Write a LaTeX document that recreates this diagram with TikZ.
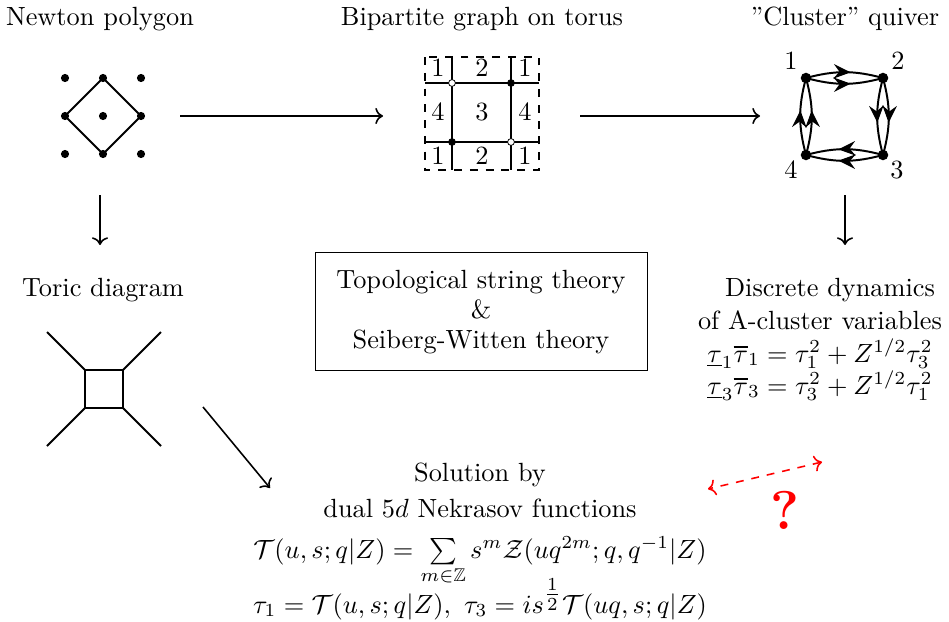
\documentclass[tikz,border=0pt]{standalone}
\usepackage{amsmath,amssymb}
\usetikzlibrary{arrows.meta,decorations.markings}
\begin{document}
\begin{tikzpicture}[x=0.38pt,y=-0.38pt,
  lbl/.style={inner sep=0pt,anchor=base},
  flow/.style={->,line width=0.6pt},
  ndot/.style={circle,fill=black,inner sep=0pt,minimum size=3.1pt},
  bdot/.style={circle,fill=black,draw=black,line width=0.3pt,inner sep=0pt,minimum size=2.6pt},
  wdot/.style={circle,fill=white,draw=black,line width=0.3pt,inner sep=0pt,minimum size=2.6pt},
  qdot/.style={circle,fill=black,inner sep=0pt,minimum size=4pt},
  qedge/.style={line width=0.75pt,postaction={decorate},
    decoration={markings,mark=at position 0.58 with {\arrow{Stealth[length=6.5pt,width=5.5pt,inset=2.2pt]}}}},
  thick2/.style={line width=0.75pt}]
\useasboundingbox (0,0) rectangle (949,622);

% titles
\node[lbl] (t1) at (100,25) {Newton polygon};
\node[lbl] (t2) at (482,25) {Bipartite graph on torus};
\node[lbl] (t3) at (845,25) {"Cluster" quiver};

% Newton polygon
\foreach \i/\x in {0/65,1/103,2/141}{
  \foreach \j/\y in {0/78,1/116,2/154}{
    \node[ndot] (n\i\j) at (\x,\y) {};
  }}
\draw[thick2] (n10.center) -- (n21.center) -- (n12.center) -- (n01.center) -- cycle;

% arrows top row
\coordinate (a1s) at (180,116);
\coordinate (a1e) at (383,116);
\draw[flow] (a1s) -- (a1e);
\coordinate (a2s) at (580,116);
\coordinate (a2e) at (760,116);
\draw[flow] (a2s) -- (a2e);

% bipartite graph
\draw[dashed,line width=0.4pt] (425,57) rectangle (539,170);
\coordinate (hl1) at (425,83); \coordinate (hr1) at (539,83);
\coordinate (hl2) at (425,142); \coordinate (hr2) at (539,142);
\coordinate (vt1) at (452,57); \coordinate (vb1) at (452,170);
\coordinate (vt2) at (511,57); \coordinate (vb2) at (511,170);
\draw[line width=0.45pt] (hl1) -- (hr1) (hl2) -- (hr2) (vt1) -- (vb1) (vt2) -- (vb2);
\node[wdot] (w1) at (452,83) {};
\node[bdot] (b1) at (511,83) {};
\node[bdot] (b2) at (452,142) {};
\node[wdot] (w2) at (511,142) {};
\foreach \x/\s in {438/1,482/2,525/1}{\node[lbl] at (\x,77) {\s};}
\foreach \x/\s in {438/4,482/3,525/4}{\node[lbl] at (\x,120) {\s};}
\foreach \x/\s in {438/1,482/2,525/1}{\node[lbl] at (\x,164) {\s};}

% quiver
\node[qdot] (q1) at (806,78) {};
\node[qdot] (q2) at (883,78) {};
\node[qdot] (q3) at (883,155) {};
\node[qdot] (q4) at (806,155) {};
\node[lbl] (l1) at (791,70) {1};
\node[lbl] (l2) at (898,70) {2};
\node[lbl] (l3) at (897,178) {3};
\node[lbl] (l4) at (791,178) {4};
\draw[qedge] (q1.center) to[bend left=15] (q2.center);
\draw[qedge] (q1.center) to[bend right=15] (q2.center);
\draw[qedge] (q2.center) to[bend left=15] (q3.center);
\draw[qedge] (q2.center) to[bend right=15] (q3.center);
\draw[qedge] (q3.center) to[bend left=15] (q4.center);
\draw[qedge] (q3.center) to[bend right=15] (q4.center);
\draw[qedge] (q4.center) to[bend left=15] (q1.center);
\draw[qedge] (q4.center) to[bend right=15] (q1.center);

% down arrows
\coordinate (d1s) at (100,195); \coordinate (d1e) at (100,245);
\draw[flow] (d1s) -- (d1e);
\coordinate (d2s) at (845,195); \coordinate (d2e) at (845,245);
\draw[flow] (d2s) -- (d2e);

% toric diagram
\node[lbl] (t4) at (103,296) {Toric diagram};
\coordinate (s1) at (85,370); \coordinate (s2) at (123,370);
\coordinate (s3) at (123,408); \coordinate (s4) at (85,408);
\draw[thick2] (s1) -- (s2) -- (s3) -- (s4) -- cycle;
\draw[thick2] (s1) -- (47,332) (s2) -- (161,332) (s3) -- (161,446) (s4) -- (47,446);

% center box
\node[draw,line width=0.4pt,minimum width=126.5pt,minimum height=44.5pt] (box) at (481.5,311.5) {};
\node[lbl] at (481,288) {Topological string theory};
\node[lbl] at (481,318) {\&};
\node[lbl] at (481,348) {Seiberg-Witten theory};

% right text
\node[lbl] at (830,296) {Discrete dynamics};
\node[lbl] at (820,329) {of A-cluster variables};
\node[lbl] at (820,362) {$\underline{\tau}_1\overline{\tau}_1=\tau_1^2+Z^{1/2}\tau_3^2$};
\node[lbl] at (820,394) {$\underline{\tau}_3\overline{\tau}_3=\tau_3^2+Z^{1/2}\tau_1^2$};

% diagonal arrow
\coordinate (g1) at (203,407); \coordinate (g2) at (270,488);
\draw[flow] (g1) -- (g2);

% solution
\node[lbl] at (480,481) {Solution by};
\node[lbl] at (480,517) {dual $5d$ Nekrasov functions};
\node[lbl] (f1) at (480,558) {$\mathcal{T}(u,s;q|Z)=\sum\limits_{m\in\mathbb{Z}} s^m\mathcal{Z}(uq^{2m};q,q^{-1}|Z)$};
\node[lbl] (f2) at (480,613) {$\tau_1=\mathcal{T}(u,s;q|Z),\ \tau_3=is^{\textstyle\frac12}\mathcal{T}(uq,s;q|Z)$};

% red
\coordinate (r1) at (822,462); \coordinate (r2) at (708,489);
\draw[<->,red,dashed,line width=0.6pt] (r1) -- (r2);
\node[red,inner sep=0pt] (qm) at (785,510) {\huge\bfseries ?};
\end{tikzpicture}
\end{document}
